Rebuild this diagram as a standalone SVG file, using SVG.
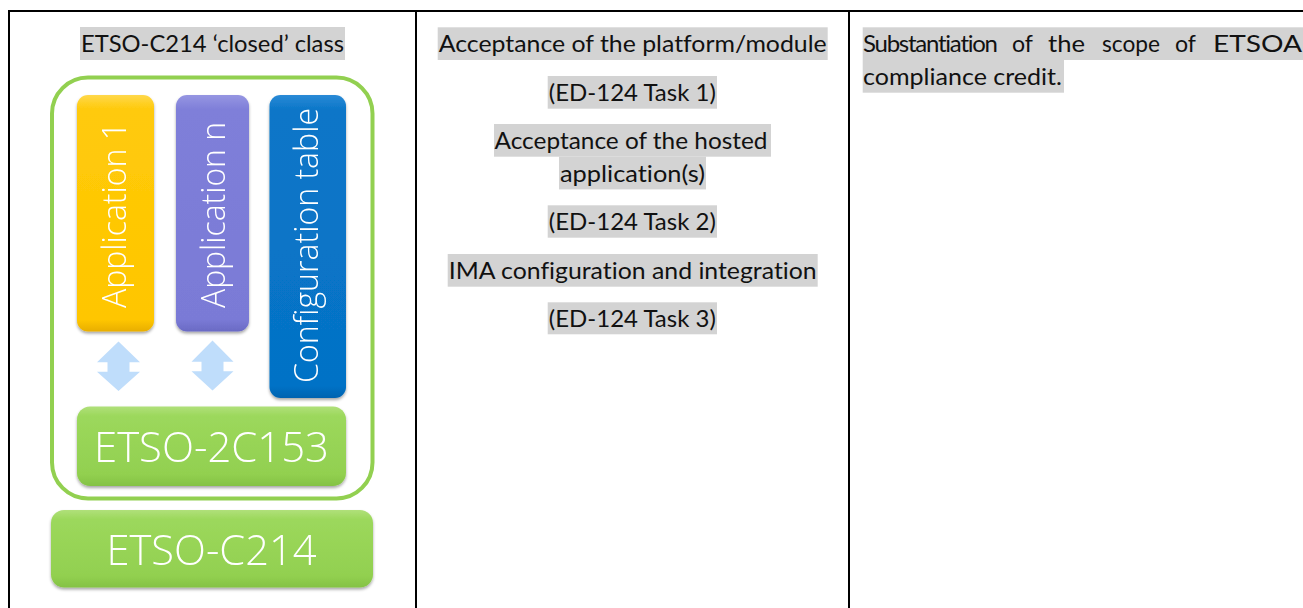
<svg xmlns="http://www.w3.org/2000/svg" width="1303" height="608" viewBox="0 0 1303 608">
  <defs>
    <style>
      .grid { stroke: #000; stroke-width: 2; fill: none; }
      .hl { fill: #d3d3d3; }
      .txt { font-family: Lato, "Liberation Sans", Arial, sans-serif; font-size: 24px; fill: #111; font-variant-ligatures: none; }
      .mid { text-anchor: middle; }
      .vtxt { font-family: "Open Sans", "Liberation Sans", sans-serif; font-weight: 300; font-size: 33px; fill: #fff; text-anchor: middle; }
      .btxt { font-family: "Open Sans", "Liberation Sans", sans-serif; font-weight: 300; font-size: 42px; fill: #fff; text-anchor: middle; }
      .arrow { fill: #bfddfb; }
    </style>
    <filter id="shadow" x="-20%" y="-20%" width="140%" height="140%">
      <feDropShadow dx="0" dy="2" stdDeviation="1.8" flood-color="#000" flood-opacity="0.35"/>
    </filter>
    <linearGradient id="gGreen" x1="0" y1="0" x2="0" y2="1">
      <stop offset="0" stop-color="#b0e07a"/>
      <stop offset="0.12" stop-color="#9cd85c"/>
      <stop offset="0.85" stop-color="#92d050"/>
      <stop offset="1" stop-color="#84c244"/>
    </linearGradient>
    <linearGradient id="gYellow" x1="0" y1="0" x2="0" y2="1">
      <stop offset="0" stop-color="#ffd84a"/>
      <stop offset="0.06" stop-color="#ffca0a"/>
      <stop offset="0.95" stop-color="#ffc600"/>
      <stop offset="1" stop-color="#e8ae00"/>
    </linearGradient>
    <linearGradient id="gPurple" x1="0" y1="0" x2="0" y2="1">
      <stop offset="0" stop-color="#9696e2"/>
      <stop offset="0.06" stop-color="#7f7fd9"/>
      <stop offset="0.95" stop-color="#7a7ad6"/>
      <stop offset="1" stop-color="#6a6ac4"/>
    </linearGradient>
    <linearGradient id="gBlue" x1="0" y1="0" x2="0" y2="1">
      <stop offset="0" stop-color="#2a8ad6"/>
      <stop offset="0.05" stop-color="#0a76c8"/>
      <stop offset="0.96" stop-color="#0572c6"/>
      <stop offset="1" stop-color="#0563b0"/>
    </linearGradient>
  </defs>

  <rect width="1303" height="608" fill="#fff"/>

  <!-- table grid -->
  <g id="table">
    <line class="grid" x1="8" y1="11" x2="1303" y2="11"/>
    <line class="grid" x1="9" y1="10" x2="9" y2="608"/>
    <line class="grid" x1="416" y1="10" x2="416" y2="608"/>
    <line class="grid" x1="849" y1="10" x2="849" y2="608"/>
  </g>

  <!-- left column: architecture sketch -->
  <g id="title-left">
    <rect class="hl" x="80" y="27" width="265" height="33"/>
    <text class="txt mid" x="212.5" y="52" textLength="263" lengthAdjust="spacingAndGlyphs">ETSO-C214 ‘closed’ class</text>
  </g>

  <g id="closed-class-frame">
    <rect x="52" y="77.5" width="320.5" height="421" rx="36" ry="36" fill="none" stroke="#92d050" stroke-width="4"/>
  </g>

  <g id="app-1" filter="url(#shadow)">
    <rect x="77" y="95" width="77" height="236.5" rx="11" fill="url(#gYellow)"/>
    <text class="vtxt" transform="translate(126,215) rotate(-90)" textLength="186" lengthAdjust="spacingAndGlyphs">Application 1</text>
  </g>

  <g id="app-n" filter="url(#shadow)">
    <rect x="176" y="95" width="73" height="236.5" rx="11" fill="url(#gPurple)"/>
    <text class="vtxt" transform="translate(225,215) rotate(-90)" textLength="186" lengthAdjust="spacingAndGlyphs">Application n</text>
  </g>

  <g id="config-table" filter="url(#shadow)">
    <rect x="269.5" y="95" width="76.5" height="303" rx="11" fill="url(#gBlue)"/>
    <text class="vtxt" transform="translate(318,245.5) rotate(-90)" textLength="275" lengthAdjust="spacingAndGlyphs">Configuration table</text>
  </g>

  <g id="etso-2c153" filter="url(#shadow)">
    <rect x="77" y="406.5" width="269" height="79.5" rx="13" fill="url(#gGreen)"/>
    <text class="btxt" x="211.5" y="461.5" textLength="235" lengthAdjust="spacingAndGlyphs">ETSO-2C153</text>
  </g>

  <g id="etso-c214" filter="url(#shadow)">
    <rect x="51" y="510" width="322" height="77.5" rx="13" fill="url(#gGreen)"/>
    <text class="btxt" x="211.5" y="565" textLength="210" lengthAdjust="spacingAndGlyphs">ETSO-C214</text>
  </g>

  <!-- connectors: two-way block arrows between applications and platform -->
  <g id="connectors">
    <path class="arrow" d="M118.5,341.5 L140,362.3 L129.5,362.3 L129.5,371.7 L140,371.7 L118.5,391 L97,371.7 L107.5,371.7 L107.5,362.3 L97,362.3 Z"/>
    <path class="arrow" d="M212.5,340.5 L233.5,361.8 L223.5,361.8 L223.5,371.2 L233.5,371.2 L212.5,390.5 L191.5,371.2 L201.5,371.2 L201.5,361.8 L191.5,361.8 Z"/>
  </g>

  <!-- middle column: acceptance tasks -->
  <g id="tasks">
    <rect class="hl" x="437.7" y="27.3" width="390" height="32.7"/>
    <text class="txt mid" x="632.7" y="52" textLength="388" lengthAdjust="spacingAndGlyphs">Acceptance of the platform/module</text>

    <rect class="hl" x="547.7" y="76" width="169.3" height="32.7"/>
    <text class="txt mid" x="632.3" y="101" textLength="167" lengthAdjust="spacingAndGlyphs">(ED-124 Task 1)</text>

    <rect class="hl" x="494" y="124" width="277" height="32.7"/>
    <text class="txt mid" x="631" y="149" textLength="273" lengthAdjust="spacingAndGlyphs">Acceptance of the hosted</text>

    <rect class="hl" x="559" y="156.7" width="147" height="32.7"/>
    <text class="txt mid" x="632.5" y="181.5" textLength="145" lengthAdjust="spacingAndGlyphs">application(s)</text>

    <rect class="hl" x="547.7" y="205.3" width="169.3" height="32.4"/>
    <text class="txt mid" x="632.3" y="230" textLength="167" lengthAdjust="spacingAndGlyphs">(ED-124 Task 2)</text>

    <rect class="hl" x="447.7" y="254" width="370" height="32.7"/>
    <text class="txt mid" x="632.7" y="279" textLength="368" lengthAdjust="spacingAndGlyphs">IMA configuration and integration</text>

    <rect class="hl" x="547.7" y="302.3" width="169.3" height="32"/>
    <text class="txt mid" x="632.3" y="327" textLength="167" lengthAdjust="spacingAndGlyphs">(ED-124 Task 3)</text>
  </g>

  <!-- right column: justified paragraph, one text per word -->
  <g id="credit">
    <rect class="hl" x="862.7" y="27.3" width="440.3" height="32.7"/>
    <rect class="hl" x="862.7" y="60" width="201.3" height="32.7"/>
    <text class="txt" x="863" y="52" textLength="135" lengthAdjust="spacing">Substantiation</text>
    <text class="txt" x="1012" y="52" textLength="21" lengthAdjust="spacingAndGlyphs">of</text>
    <text class="txt" x="1048" y="52" textLength="37" lengthAdjust="spacingAndGlyphs">the</text>
    <text class="txt" x="1102" y="52" textLength="58" lengthAdjust="spacingAndGlyphs">scope</text>
    <text class="txt" x="1175" y="52" textLength="21" lengthAdjust="spacingAndGlyphs">of</text>
    <text class="txt" x="1213" y="52" textLength="89" lengthAdjust="spacingAndGlyphs">ETSOA</text>
    <text class="txt" x="863" y="84.5" textLength="199" lengthAdjust="spacingAndGlyphs">compliance credit.</text>
  </g>
</svg>
